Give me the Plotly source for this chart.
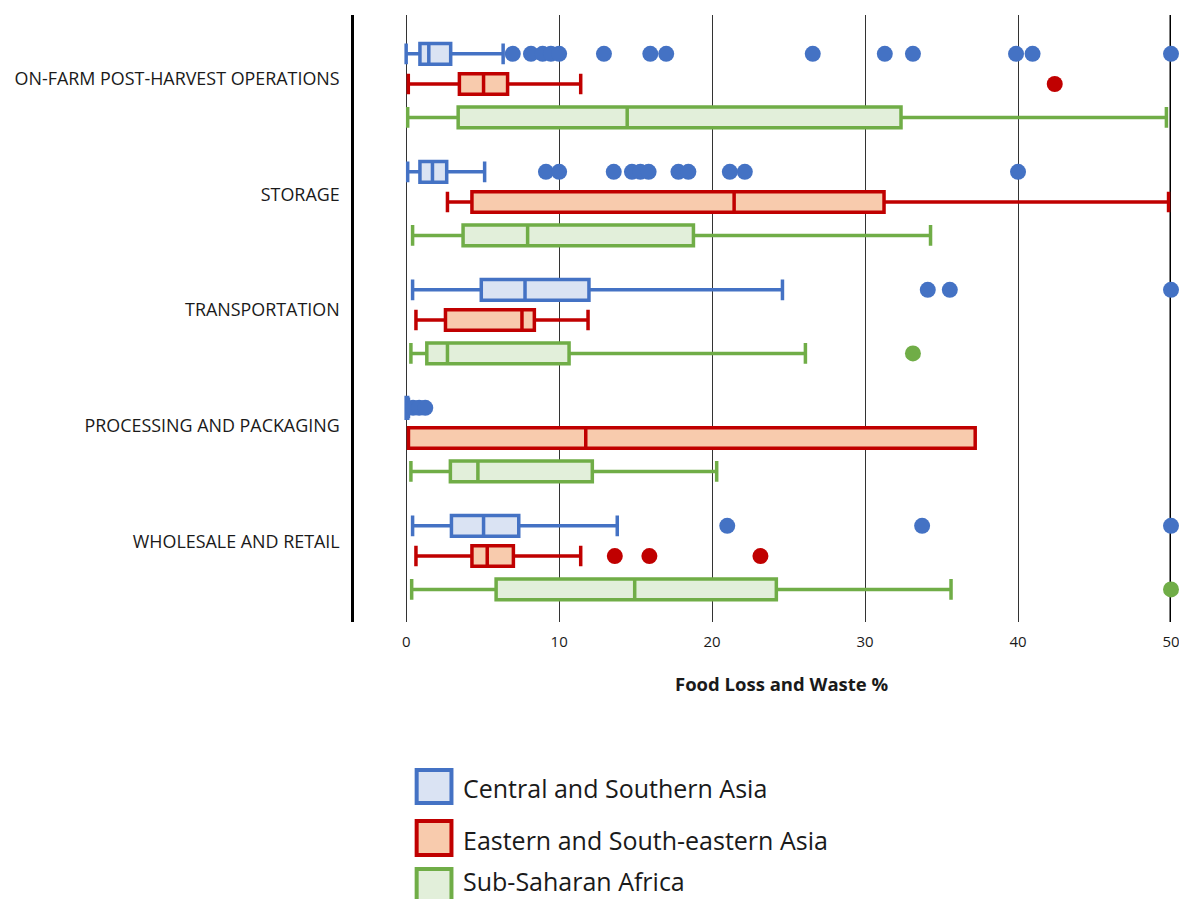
import plotly.graph_objects as go

# ---------------- data ----------------
categories = ["ON-FARM POST-HARVEST OPERATIONS", "STORAGE", "TRANSPORTATION",
              "PROCESSING AND PACKAGING", "WHOLESALE AND RETAIL"]
series_names = ["Central and Southern Asia", "Eastern and South-eastern Asia", "Sub-Saharan Africa"]
x_ticks = [0, 10, 20, 30, 40, 50]
x_title = "Food Loss and Waste %"

# Central and Southern Asia
csa_low = [0.0, 0.1, 0.42, 0.0, 0.42]
csa_q1 = [0.9, 0.9, 4.91, 0.0, 2.96]
csa_med = [1.48, 1.72, 7.77, 0.0, 5.06]
csa_q3 = [2.91, 2.65, 11.95, 0.1, 7.36]
csa_high = [6.34, 5.13, 24.6, 0.15, 13.8]
csa_out = [[6.97, 8.16, 8.92, 9.46, 10.0, 12.93, 15.96, 17.0, 26.58, 31.29, 33.13, 39.87, 40.95, 50.0],
           [9.14, 10.0, 13.57, 14.76, 15.31, 15.85, 17.8, 18.45, 21.16, 22.14, 40.0],
           [34.1, 35.54, 50.0],
           [0.45, 0.85, 1.25],
           [20.99, 33.73, 50.0]]

# Eastern and South-eastern Asia
esa_low = [0.14, 2.7, 0.64, 0.15, 0.64]
esa_q1 = [3.48, 4.3, 2.57, 0.15, 4.3]
esa_med = [5.06, 21.44, 7.57, 11.74, 5.3]
esa_q3 = [6.63, 31.24, 8.38, 37.2, 7.01]
esa_high = [11.41, 49.84, 11.89, 37.2, 11.41]
esa_out = [[42.4], [], [], [], [13.64, 15.9, 23.16]]

# Sub-Saharan Africa
ssa_low = [0.1, 0.42, 0.31, 0.31, 0.36]
ssa_q1 = [3.4, 3.72, 1.35, 2.89, 5.88]
ssa_med = [14.45, 7.94, 2.7, 4.69, 14.94]
ssa_q3 = [32.35, 18.78, 10.65, 12.17, 24.2]
ssa_high = [49.7, 34.28, 26.1, 20.3, 35.62]
ssa_out = [[], [], [33.13], [], [50.0]]

# ---------------- styles ----------------
line_colors = ["#4472C4", "#C00000", "#70AD47"]
fill_colors = ["#DAE3F3", "#F8CBAD", "#E2EFDA"]
offsets = [-0.212, 0.044, 0.327]
label_scale = 0.98
FONT = "Open Sans"
TXT = "#1a1a1a"

stats = [
    (csa_low, csa_q1, csa_med, csa_q3, csa_high, csa_out),
    (esa_low, esa_q1, esa_med, esa_q3, esa_high, esa_out),
    (ssa_low, ssa_q1, ssa_med, ssa_q3, ssa_high, ssa_out),
]

fig = go.Figure()
for s, (lo, q1, md, q3, hi, outs) in enumerate(stats):
    ypos = [i + offsets[s] for i in range(len(categories))]
    fig.add_trace(go.Box(
        name=series_names[s], orientation="h", y=ypos,
        lowerfence=lo, q1=q1, median=md, q3=q3, upperfence=hi,
        width=0.175, whiskerwidth=1, boxpoints=False,
        line=dict(color=line_colors[s], width=3.5),
        fillcolor=fill_colors[s], showlegend=False, hoverinfo="x",
    ))
    ox, oy = [], []
    for i, vals in enumerate(outs):
        for v in vals:
            ox.append(v)
            oy.append(i + offsets[s])
    fig.add_trace(go.Scatter(
        x=ox, y=oy, mode="markers", cliponaxis=False, showlegend=False,
        marker=dict(color=line_colors[s], size=16, line=dict(width=0)),
        name=series_names[s],
    ))

# page has an 8px body margin; layout numbers below are in page pixels
PAGE_OFF = 8
W, H = 1187 - PAGE_OFF, 907 - 2 * PAGE_OFF
L, R, T, B = 352 - PAGE_OFF, 1173.5 - PAGE_OFF, 15 - PAGE_OFF, 622 - PAGE_OFF

def pxx(px):
    return (px - PAGE_OFF - L) / (R - L)

def pxy(py):
    return (B - (py - PAGE_OFF)) / (B - T)

shapes = [
    dict(type="line", xref="x", yref="paper", x0=50, x1=50, y0=0, y1=1,
         line=dict(color="black", width=3), layer="below"),
]
annotations = [
    dict(text="<b>%s</b>" % x_title, xref="x", yref="paper", x=24.6, y=pxy(683),
         showarrow=False, font=dict(family=FONT, size=18.5, color=TXT),
         xanchor="center", yanchor="middle"),
]
legend_rows = [(770, 803), (821, 855), (869, 903)]
legend_text_y = [788, 840, 881]
for s, (y0, y1) in enumerate(legend_rows):
    shapes.append(dict(type="rect", xref="paper", yref="paper",
                       x0=pxx(415), x1=pxx(450), y0=pxy(y1), y1=pxy(y0),
                       line=dict(color=line_colors[s], width=4),
                       fillcolor=fill_colors[s]))
    annotations.append(dict(text=series_names[s], xref="paper", yref="paper",
                            x=pxx(460), y=pxy(legend_text_y[s]), xanchor="left",
                            yanchor="middle", showarrow=False,
                            font=dict(family=FONT, size=25, color=TXT)))

fig.update_layout(
    width=W, height=H,
    margin=dict(l=L, r=W - R, t=T, b=H - B, pad=0),
    paper_bgcolor="white", plot_bgcolor="white",
    boxmode="overlay",
    font=dict(family=FONT, color=TXT),
    shapes=shapes, annotations=annotations,
    xaxis=dict(range=[-3.41, 50], tickvals=x_ticks, showgrid=True,
               gridcolor="#333333", gridwidth=1.3, zeroline=False, showline=False,
               ticks="", ticklabelstandoff=9, tickfont=dict(size=15, family=FONT, color=TXT)),
    yaxis=dict(range=[4.603, -0.541], tickvals=[i * label_scale for i in range(len(categories))],
               ticktext=categories, showgrid=False, zeroline=False,
               showline=True, linecolor="black", linewidth=2.5, ticks="",
               ticklabelstandoff=8, tickfont=dict(size=17.9, family=FONT, color=TXT)),
)

fig.write_html("out.html")
